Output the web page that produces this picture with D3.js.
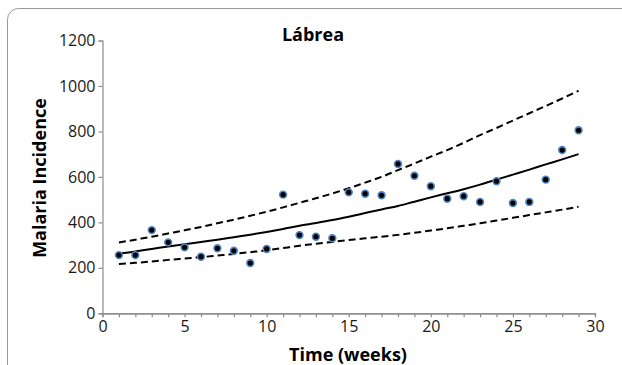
<!DOCTYPE html>
<html>
<head>
<meta charset="utf-8">
<script src="https://cdn.jsdelivr.net/npm/d3@7"></script>
<style>
  body { margin: 0; background: #fff; }
  svg { display: block; font-family: "Open Sans", "Liberation Sans", sans-serif; }
</style>
</head>
<body>
<div id="chart"></div>
<script>
// observed weekly malaria incidence, Lábrea
const weeks = d3.range(1, 30);
const incidence = [256, 256, 366, 312, 290, 249, 286, 275, 221, 283,
  522, 344, 337, 330, 532, 526, 519, 657, 605, 559,
  504, 515, 490, 581, 485, 490, 588, 718, 805];
// fitted curve and confidence bounds
const fitted = [263, 272, 283, 294, 304, 314, 324, 335, 346, 358,
  371, 385, 397, 410, 425, 441, 457, 472, 491, 510,
  528, 546, 566, 588, 610, 632, 655, 677, 700];
const upper = [311, 324, 337, 351, 365, 380, 396, 412, 429, 447,
  466, 486, 506, 527, 550, 575, 600, 630, 659, 689,
  718, 750, 784, 815, 848, 880, 912, 945, 979];
const lower = [217, 222, 228, 235, 241, 247, 254, 261, 269, 277,
  287, 297, 306, 314, 322, 330, 337, 345, 354, 364,
  374, 385, 396, 408, 420, 432, 444, 456, 469];
const xTicks = [0, 5, 10, 15, 20, 25, 30];
const yTicks = [0, 200, 400, 600, 800, 1000, 1200];

const W = 622, H = 365;
const svg = d3.select("#chart").append("svg")
  .attr("width", W).attr("height", H);

// rounded frame
svg.append("rect")
  .attr("x", 7.5).attr("y", 8.5)
  .attr("width", 700).attr("height", 500)
  .attr("rx", 11)
  .attr("fill", "none")
  .attr("stroke", "#9a9a9a")
  .attr("stroke-width", 1);

const x = d3.scaleLinear().domain([0, 30]).range([102.5, 595]);
const y = d3.scaleLinear().domain([0, 1200]).range([313.3, 40.5]);

const gx = svg.append("g").attr("transform", `translate(0,${y(0)})`);
gx.call(d3.axisBottom(x).ticks(30).tickSize(4).tickFormat(""));
gx.append("g").call(d3.axisBottom(x).tickValues(xTicks).tickSize(0).tickPadding(7));

const gy = svg.append("g").attr("transform", `translate(${x(0)},0)`);
gy.call(d3.axisLeft(y).tickValues(yTicks).tickFormat(d3.format("d")).tickSize(4).tickPadding(3));

svg.selectAll(".domain, .tick line").attr("stroke", "#8c8c8c").attr("stroke-width", 1.2);
svg.selectAll(".tick text")
  .attr("font-size", 16)
  .attr("fill", "#1a1a1a")
  .attr("font-family", "'Open Sans', sans-serif");

const line = d3.line().x((d, i) => x(weeks[i])).y(d => y(d)).curve(d3.curveMonotoneX);

svg.append("path").datum(upper)
  .attr("d", line).attr("fill", "none")
  .attr("stroke", "#000").attr("stroke-width", 2).attr("stroke-dasharray", "7,4");
svg.append("path").datum(lower)
  .attr("d", line).attr("fill", "none")
  .attr("stroke", "#000").attr("stroke-width", 2).attr("stroke-dasharray", "7,4");
svg.append("path").datum(fitted)
  .attr("d", line).attr("fill", "none")
  .attr("stroke", "#000").attr("stroke-width", 2);

svg.append("g").selectAll("circle")
  .data(incidence)
  .join("circle")
  .attr("cx", (d, i) => x(weeks[i]))
  .attr("cy", d => y(d))
  .attr("r", 3.4)
  .attr("fill", "#000")
  .attr("stroke", "#4f86c6")
  .attr("stroke-width", 1.6);

svg.append("text")
  .attr("x", 313).attr("y", 41)
  .attr("text-anchor", "middle")
  .attr("font-size", 18).attr("font-weight", "bold")
  .text("Lábrea");

svg.append("text")
  .attr("transform", `translate(46,178) rotate(-90)`)
  .attr("text-anchor", "middle")
  .attr("font-size", 18).attr("font-weight", "bold")
  .text("Malaria Incidence");

svg.append("text")
  .attr("x", 348).attr("y", 361)
  .attr("text-anchor", "middle")
  .attr("font-size", 18).attr("font-weight", "bold")
  .text("Time (weeks)");
</script>
</body>
</html>
